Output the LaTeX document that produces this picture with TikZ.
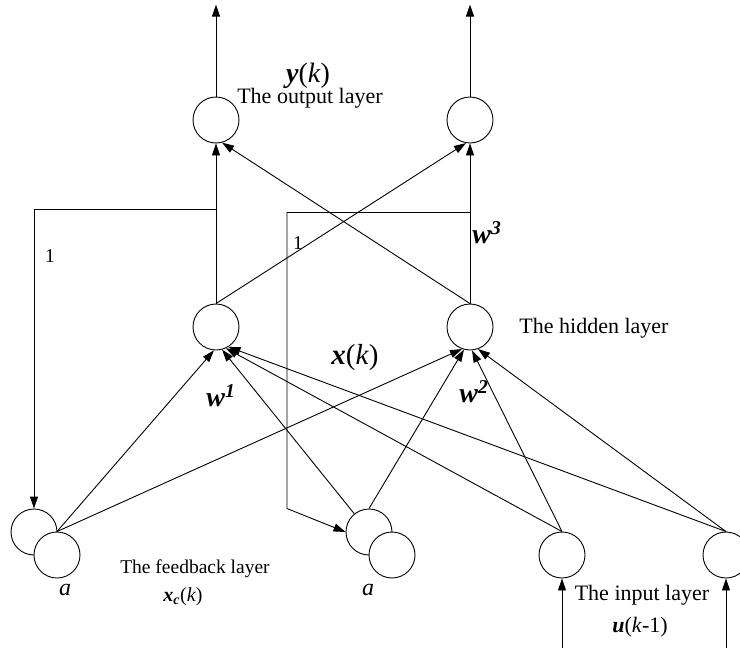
\documentclass[tikz,border=0pt]{standalone}
\usepackage{fontspec}
\setmainfont{Liberation Serif}
\usetikzlibrary{
  arrows.meta,
  positioning
}
\newcommand{\bvec}[1]{\textbf{\textit{#1}}}
\tikzset{
  neuron/.style={
    circle,
    draw,
    fill=white,
    minimum size=46pt,
    inner sep=0pt,
    line width=0.9pt
  },
  wire/.style={line width=0.9pt},
  sig/.style={wire,-{Triangle[length=12pt,width=8pt]}},
  layerlbl/.style={font=\fontsize{22}{24}\selectfont},
  smalllbl/.style={font=\fontsize{19.5}{21}\selectfont},
  symlbl/.style={font=\fontsize{28}{30}\selectfont},
}

\begin{document}
\begin{tikzpicture}[x=1pt,y=-1pt,on grid,node distance=23pt and 23pt]
  \useasboundingbox (0,0) rectangle (740,648);

  % neurons
  \node[neuron] (ol) at (216,120) {};
  \node[neuron,right=254pt of ol] (or) {};
  \node[neuron,below=207pt of ol] (hl) {};
  \node[neuron,below=207pt of or] (hr) {};
  \node[neuron,below left=205pt and 182pt of hl] (fa1) {};
  \node[neuron,below right=of fa1] (fa2) {};
  \node[neuron,right=335pt of fa1] (fb1) {};
  \node[neuron,below right=of fb1] (fb2) {};
  \node[neuron,right=505pt of fa2] (ia) {};
  \node[neuron,right=164pt of ia] (ib) {};

  % free ends and corners
  \coordinate[above=92pt of ol.north] (yl);
  \coordinate[above=92pt of or.north] (yr);
  \coordinate[below=70pt of ia.south] (ul);
  \coordinate[below=70pt of ib.south] (ur);
  \coordinate[below=66pt of ol.south] (tapl);
  \coordinate (cornl) at (fa1.north |- tapl);
  \coordinate[below=69pt of or.south] (tapr);
  \coordinate[left=183pt of tapr] (cornr);
  \coordinate (cornr2) at (cornr |- fb1.north);

  % labels
  \node[symlbl] (ylbl) at (308,76) {\bvec{y}(\textit{k})};
  \node[layerlbl] (outlbl) at (310,98) {The output layer};
  \node[layerlbl] (hidlbl) at (594,328) {The hidden layer};
  \node[symlbl,font=\fontsize{29}{31}\selectfont] (xlbl) at (355,358) {\bvec{x}(\textit{k})};
  \node[symlbl] (w1) at (221,396) {\bvec{w}\textsuperscript{\bvec{1}}};
  \node[symlbl] (w2) at (474,392) {\bvec{w}\textsuperscript{\bvec{2}}};
  \node[symlbl] (w3) at (487,233) {\bvec{w}\textsuperscript{\bvec{3}}};
  \node[smalllbl] (onel) at (50,256) {1};
  \node[smalllbl] (oner) at (298,243) {1};
  \node[symlbl,font=\fontsize{24}{26}\selectfont] (al) at (65,590) {\textit{a}};
  \node[symlbl,font=\fontsize{24}{26}\selectfont] (am) at (368,590) {\textit{a}};
  \node[smalllbl] (fblbl) at (195,569) {The feedback layer};
  \node[smalllbl,font=\fontsize{20}{22}\selectfont] (xclbl) at (183,597) {\bvec{x}\textsubscript{\bvec{c}}(\textit{k})};
  \node[layerlbl] (inlbl) at (642,595) {The input layer};
  \node[layerlbl] (ulbl) at (640,627) {\bvec{u}(\textit{k}-1)};

  % outputs and inputs
  \draw[sig] (ol) -- (yl);
  \draw[sig] (or) -- (yr);
  \draw[sig] (ul) -- (ia);
  \draw[sig] (ur) -- (ib);

  % hidden to output
  \draw[sig] (hl) -- (ol);
  \draw[sig] (hr) -- (or);
  \draw[sig] (hl.north) -- (or.-100);
  \draw[sig] (hr.north) -- (ol.-75);

  % feedback loops
  \draw[sig] (tapl) -- (cornl) -- (fa1);
  \draw[sig] (tapr) -- (cornr) -- (cornr2) -- (fb1.west);

  % into the hidden layer
  \draw[sig] (fa2.north) -- (hl.-95);
  \draw[sig] (fa2.north) -- (hr.-110);
  \draw[sig] (fb1) -- (hl.-75);
  \draw[sig] (fb1.north) -- (hr.-105);
  \draw[sig] (ia.north) -- (hl.-65);
  \draw[sig] (ia.north) -- (hr.-85);
  \draw[sig] (ib.north) -- (hl.-58);
  \draw[sig] (ib.north) -- (hr.-70);
\end{tikzpicture}
\end{document}
